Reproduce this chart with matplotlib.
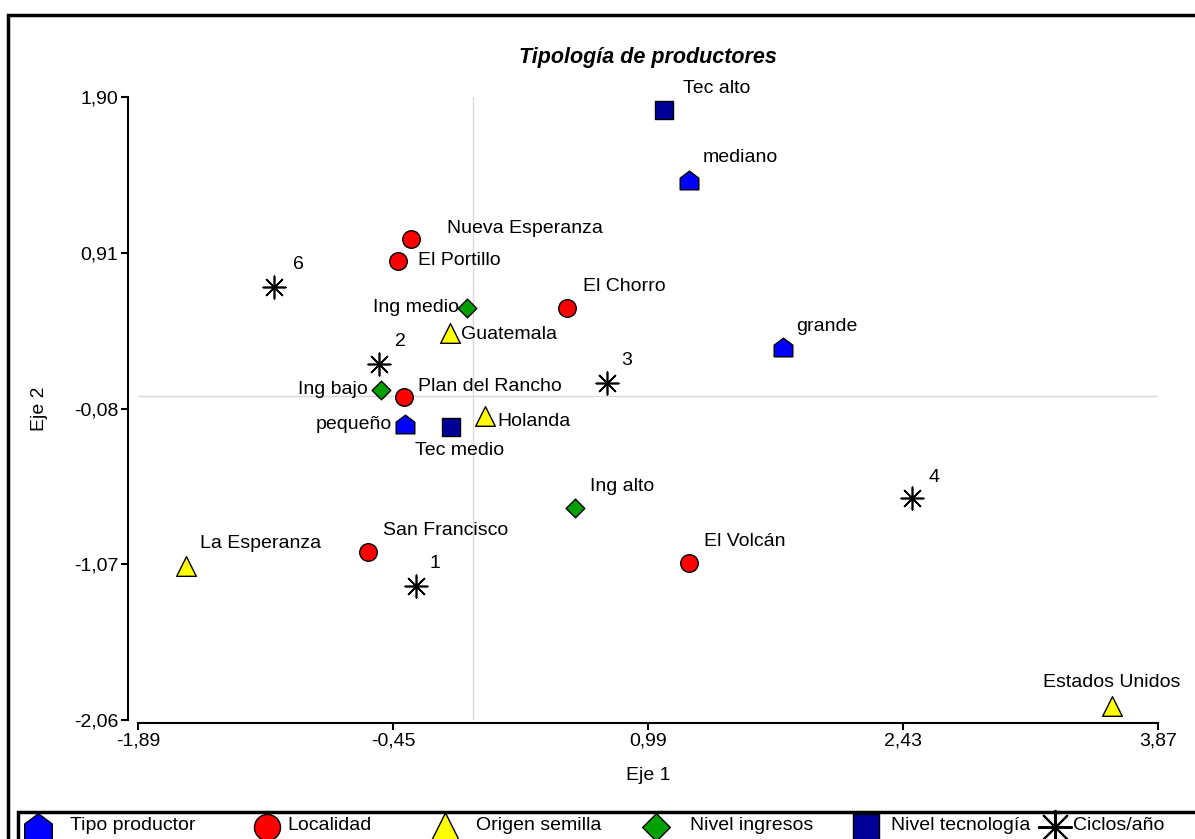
import matplotlib
matplotlib.use("Agg")
import matplotlib.pyplot as plt
from matplotlib.path import Path
from matplotlib.patches import Rectangle

plt.rcParams['font.family'] = ['Liberation Sans', 'DejaVu Sans']

# coordenadas del biplot (Eje 1, Eje 2)
tipo_lab = ["mediano", "grande", "pequeño"]
tipo_x = [1.22, 1.75, -0.38]
tipo_y = [1.37, 0.31, -0.18]

loc_lab = ["Nueva Esperanza", "El Portillo", "El Chorro", "Plan del Rancho",
           "San Francisco", "El Volcán"]
loc_x = [-0.35, -0.42, 0.53, -0.39, -0.59, 1.22]
loc_y = [1.00, 0.86, 0.56, -0.01, -0.99, -1.06]

orig_lab = ["Guatemala", "Holanda", "La Esperanza", "Estados Unidos"]
orig_x = [-0.13, 0.07, -1.62, 3.61]
orig_y = [0.40, -0.13, -1.08, -1.97]

ing_lab = ["Ing medio", "Ing bajo", "Ing alto"]
ing_x = [-0.03, -0.52, 0.58]
ing_y = [0.56, 0.04, -0.71]

tec_lab = ["Tec alto", "Tec medio"]
tec_x = [1.08, -0.12]
tec_y = [1.82, -0.20]

cic_lab = ["6", "2", "3", "4", "1"]
cic_x = [-1.12, -0.53, 0.76, 2.48, -0.32]
cic_y = [0.69, 0.20, 0.08, -0.65, -1.21]

xticks = [-1.89, -0.45, 0.99, 2.43, 3.87]
yticks = [-2.06, -1.07, -0.08, 0.91, 1.90]

# forma de "casita" para tipo de productor
casa = Path([(-1, -1), (1, -1), (1, 0.25), (0, 1), (-1, 0.25), (-1, -1)],
            [Path.MOVETO] + [Path.LINETO] * 4 + [Path.CLOSEPOLY])
asterisco = (8, 2, 0)

grupos = [
    ("Tipo productor", tipo_lab, tipo_x, tipo_y, casa, "#0000ff", 180),
    ("Localidad", loc_lab, loc_x, loc_y, "o", "#ff0000", 160),
    ("Origen semilla", orig_lab, orig_x, orig_y, "^", "#ffff00", 200),
    ("Nivel ingresos", ing_lab, ing_x, ing_y, "D", "#00a000", 90),
    ("Nivel tecnología", tec_lab, tec_x, tec_y, "s", "#000099", 150),
    ("Ciclos/año", cic_lab, cic_x, cic_y, asterisco, "#000000", 260),
]

# desplazamiento de cada etiqueta (px) y alineacion
offs = {
    "mediano": (14, 23, "left"), "grande": (14, 21, "left"),
    "pequeño": (-13, 0, "right"),
    "Nueva Esperanza": (36, 10, "left"), "El Portillo": (20, 0, "left"),
    "El Chorro": (16, 21, "left"), "Plan del Rancho": (14, 11, "left"),
    "San Francisco": (15, 21, "left"), "El Volcán": (15, 21, "left"),
    "Guatemala": (11, -2, "left"), "Holanda": (12, -5, "left"),
    "La Esperanza": (14, 22, "left"), "Estados Unidos": (0, 23, "center"),
    "Ing medio": (-8, 0, "right"), "Ing bajo": (-13, 0, "right"),
    "Ing alto": (15, 21, "left"),
    "Tec alto": (19, 21, "left"), "Tec medio": (8, -23, "center"),
    "6": (19, 23, "left"), "2": (16, 23, "left"), "3": (14, 23, "left"),
    "4": (17, 21, "left"), "1": (13, 23, "left"),
}

W, H = 1195, 839
FS = 14
fig = plt.figure(figsize=(W / 100, H / 100), dpi=100)
ax = fig.add_axes([138 / W, 1 - 720 / H, 1020 / W, 623 / H])

ax.axvline(0, color="#d9d9d9", lw=1, zorder=0)
ax.axhline(0, color="#d9d9d9", lw=1, zorder=0)

for nombre, labs, xs, ys, mk, col, s in grupos:
    ax.scatter(xs, ys, marker=mk, s=s, c=col, edgecolors="black",
               linewidths=1.0 if mk != asterisco else 1.2,
               zorder=3, clip_on=False)
    for lab, x, y in zip(labs, xs, ys):
        dx, dy, ha = offs[lab]
        ax.annotate(lab, (x, y), xytext=(dx, dy), textcoords="offset pixels",
                    ha=ha, va="center", fontsize=FS)

ax.set_xlim(-1.89, 3.87)
ax.set_ylim(-2.06, 1.90)
ax.set_xticks(xticks)
ax.set_yticks(yticks)
ax.set_xticklabels([f"{t:.2f}".replace(".", ",") for t in xticks])
ax.set_yticklabels([f"{t:.2f}".replace(".", ",") for t in yticks])
ax.tick_params(labelsize=FS, length=5, width=1.5, direction="out", pad=2)
for side in ("top", "right"):
    ax.spines[side].set_visible(False)
ax.spines["left"].set_position(("outward", 7.2))
ax.spines["bottom"].set_position(("outward", 2.2))
ax.spines["left"].set_linewidth(1.5)
ax.spines["bottom"].set_linewidth(1.5)

ax.set_xlabel("Eje 1", fontsize=FS)
ax.set_ylabel("Eje 2", fontsize=FS)
ax.xaxis.set_label_coords(0.5, -(776 - 720) / 623)
ax.yaxis.set_label_coords((39 - 138) / 1020, 0.5)
ax.xaxis.label.set_va("center")
ax.yaxis.label.set_va("center")
fig.text(648 / W, 1 - 57 / H, "Tipología de productores", ha="center",
         va="center", fontsize=15.5, fontweight="bold", fontstyle="italic")

# marco exterior y caja de la leyenda
fig.patches.append(Rectangle((8 / W, -0.1), 1.2, 1 - 15 / H + 0.1,
                             transform=fig.transFigure, fill=False,
                             lw=2.5, ec="black"))
fig.patches.append(Rectangle((18 / W, -0.1), 1.2, 0.1 + 27 / H,
                             transform=fig.transFigure, fill=False,
                             lw=2.5, ec="black"))

# leyenda dibujada a mano en una franja inferior
lax = fig.add_axes([0, 0, 1, 27 / H])
lax.set_xlim(0, W)
lax.set_ylim(0, 27)
lax.axis("off")
leg_mk_x = [38, 267, 445, 656, 866, 1055]
leg_tx_x = [70, 287, 476, 690, 891, 1073]
for (nombre, labs, xs, ys, mk, col, s), mx, tx in zip(grupos, leg_mk_x, leg_tx_x):
    lax.scatter([mx], [12], marker=mk, s=s * 2.2, c=col, edgecolors="black",
                linewidths=1.0 if mk != asterisco else 1.5, clip_on=False)
    lax.text(tx, 13, nombre, ha="left", va="center", fontsize=FS)

fig.savefig("out.png", dpi=100)
